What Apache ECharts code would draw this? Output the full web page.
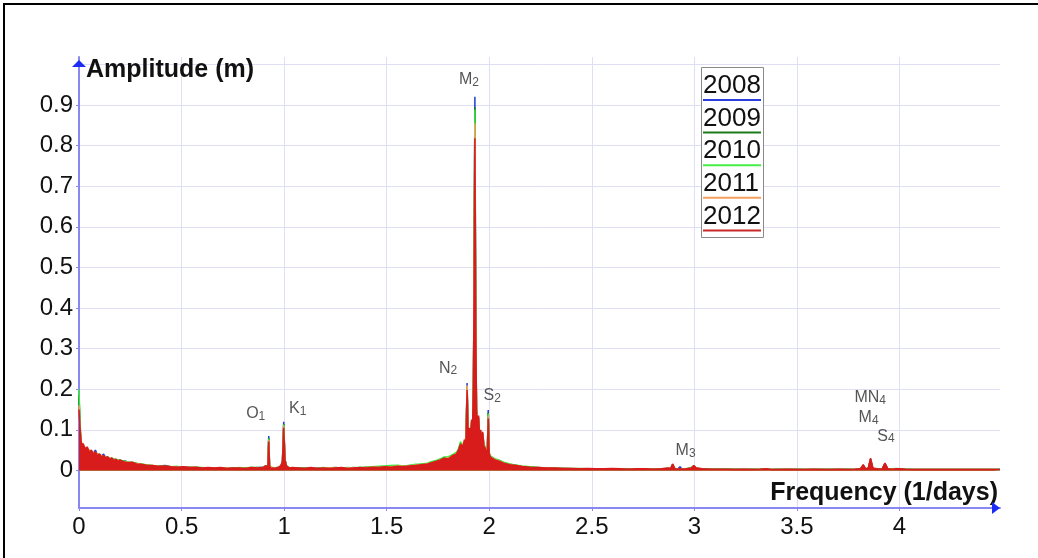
<!DOCTYPE html>
<html>
<head>
<meta charset="utf-8">
<script src="https://cdn.jsdelivr.net/npm/echarts@6/dist/echarts.min.js"></script>
<style>
  html, body { margin: 0; padding: 0; background: #fff; }
  #chart { width: 1038px; height: 558px; }
</style>
</head>
<body>
<div id="chart"></div>
<script>
// Tidal amplitude spectra of the water level record, one curve per year.
const years = ['2008', '2009', '2010', '2011', '2012'];

// Frequency (1/days)
const freq = [
  0, 0.005, 0.01, 0.015, 0.02, 0.03, 0.04, 0.05, 0.06, 0.07, 0.08, 0.09, 0.10, 0.11, 0.12, 0.13, 0.14, 0.15, 0.16, 0.17, 0.18, 0.19, 0.20, 0.22, 0.24, 0.26, 0.28, 0.30,
  0.33, 0.36, 0.39, 0.42, 0.45, 0.48, 0.51, 0.54, 0.57, 0.60, 0.63, 0.66, 0.69, 0.72, 0.75, 0.78, 0.81, 0.84, 0.87,
  0.90, 0.91, 0.916, 0.921, 0.925, 0.929, 0.935, 0.945, 0.955, 0.965, 0.975, 0.985, 0.992, 0.998, 1.004, 1.012, 1.025, 1.04,
  1.07, 1.10, 1.13, 1.16, 1.19, 1.22, 1.25, 1.28, 1.31, 1.34, 1.37, 1.40, 1.43, 1.46, 1.49, 1.52, 1.55, 1.58, 1.61, 1.64, 1.67, 1.70, 1.72, 1.74,
  1.76, 1.78, 1.80, 1.82, 1.84, 1.85, 1.86, 1.87, 1.88, 1.886, 1.892, 1.898, 1.904, 1.909, 1.914, 1.919, 1.923, 1.926, 1.930, 1.934, 1.938, 1.943, 1.948, 1.953, 1.958, 1.963, 1.968, 1.974, 1.980, 1.986, 1.991, 1.995, 2.000, 2.007, 2.015, 2.03, 2.05, 2.07, 2.10,
  2.13, 2.16, 2.20, 2.24, 2.28, 2.32, 2.36, 2.40, 2.44, 2.48, 2.52, 2.56, 2.60, 2.64, 2.68, 2.72, 2.76, 2.80, 2.84, 2.87,
  2.885, 2.894, 2.905, 2.92, 2.93, 2.94, 2.96, 2.985, 2.997, 3.01, 3.04, 3.08, 3.12, 3.16, 3.20, 3.24, 3.28, 3.32, 3.35, 3.38,
  3.42, 3.46, 3.50, 3.54, 3.58, 3.62, 3.66, 3.70, 3.74, 3.78, 3.81, 3.823, 3.835, 3.848, 3.859, 3.87, 3.89, 3.915, 3.929, 3.943,
  3.965, 3.985, 3.994, 4.005, 4.03, 4.07, 4.11, 4.15, 4.19, 4.23, 4.27, 4.31, 4.35, 4.39, 4.43, 4.46, 4.49
];

// Amplitude (m), same order as freq
const amp2008 = [
  0.178, 0.098, 0.065, 0.062, 0.058, 0.055, 0.050, 0.048, 0.044, 0.043, 0.050, 0.038, 0.037, 0.036, 0.040, 0.032, 0.030, 0.029, 0.028, 0.026, 0.025, 0.024, 0.023, 0.024, 0.020, 0.018, 0.017, 0.014,
  0.012, 0.011, 0.011, 0.012, 0.008, 0.008, 0.007, 0.007, 0.006, 0.006, 0.006, 0.005, 0.006, 0.005, 0.005, 0.006, 0.005, 0.006, 0.007,
  0.007, 0.010, 0.006, 0.013, 0.085, 0.011, 0.006, 0.005, 0.006, 0.006, 0.007, 0.011, 0.024, 0.120, 0.027, 0.011, 0.006, 0.006,
  0.005, 0.006, 0.005, 0.006, 0.005, 0.006, 0.005, 0.006, 0.006, 0.005, 0.006, 0.007, 0.006, 0.008, 0.007, 0.009, 0.008, 0.010, 0.010, 0.011, 0.013, 0.015, 0.017, 0.020,
  0.022, 0.027, 0.026, 0.032, 0.037, 0.045, 0.058, 0.052, 0.066, 0.055, 0.215, 0.062, 0.095, 0.078, 0.112, 0.100, 0.200, 0.470, 0.920, 0.400, 0.135, 0.100, 0.120, 0.078, 0.090, 0.064, 0.085, 0.055, 0.050, 0.041, 0.046, 0.149, 0.036, 0.030, 0.026, 0.023, 0.020, 0.016, 0.013,
  0.011, 0.009, 0.008, 0.006, 0.006, 0.005, 0.005, 0.004, 0.004, 0.004, 0.004, 0.003, 0.004, 0.004, 0.003, 0.003, 0.004, 0.003, 0.003, 0.005,
  0.004, 0.014, 0.004, 0.004, 0.009, 0.003, 0.004, 0.005, 0.011, 0.005, 0.003, 0.003, 0.002, 0.003, 0.002, 0.002, 0.002, 0.002, 0.003, 0.002,
  0.002, 0.002, 0.002, 0.002, 0.002, 0.002, 0.002, 0.002, 0.002, 0.002, 0.003, 0.012, 0.003, 0.005, 0.027, 0.005, 0.003, 0.003, 0.016, 0.003,
  0.003, 0.003, 0.006, 0.003, 0.002, 0.002, 0.002, 0.002, 0.002, 0.002, 0.002, 0.002, 0.002, 0.002, 0.002, 0.002, 0.002
];
const amp2009 = [
  0.185, 0.110, 0.070, 0.064, 0.060, 0.056, 0.052, 0.049, 0.046, 0.044, 0.042, 0.040, 0.038, 0.036, 0.034, 0.033, 0.031, 0.030, 0.029, 0.027, 0.026, 0.025, 0.024, 0.022, 0.020, 0.019, 0.017, 0.016,
  0.013, 0.011, 0.010, 0.010, 0.009, 0.008, 0.008, 0.007, 0.007, 0.006, 0.006, 0.006, 0.006, 0.005, 0.006, 0.005, 0.006, 0.006, 0.006,
  0.007, 0.011, 0.007, 0.012, 0.080, 0.010, 0.006, 0.006, 0.005, 0.006, 0.008, 0.012, 0.023, 0.114, 0.026, 0.010, 0.006, 0.006,
  0.006, 0.006, 0.006, 0.005, 0.006, 0.006, 0.007, 0.006, 0.006, 0.007, 0.006, 0.008, 0.008, 0.009, 0.009, 0.010, 0.011, 0.011, 0.012, 0.013, 0.015, 0.017, 0.020, 0.023,
  0.027, 0.031, 0.030, 0.038, 0.042, 0.052, 0.066, 0.060, 0.072, 0.058, 0.205, 0.068, 0.100, 0.082, 0.120, 0.105, 0.210, 0.450, 0.895, 0.380, 0.145, 0.108, 0.130, 0.088, 0.098, 0.072, 0.092, 0.062, 0.056, 0.047, 0.052, 0.142, 0.042, 0.034, 0.030, 0.027, 0.024, 0.019, 0.015,
  0.013, 0.010, 0.008, 0.007, 0.006, 0.005, 0.005, 0.005, 0.004, 0.004, 0.004, 0.004, 0.004, 0.003, 0.004, 0.003, 0.003, 0.004, 0.003, 0.005,
  0.005, 0.015, 0.004, 0.003, 0.004, 0.004, 0.003, 0.006, 0.011, 0.006, 0.003, 0.003, 0.003, 0.002, 0.003, 0.002, 0.003, 0.002, 0.003, 0.002,
  0.003, 0.002, 0.003, 0.002, 0.002, 0.003, 0.002, 0.002, 0.003, 0.002, 0.004, 0.013, 0.004, 0.005, 0.028, 0.005, 0.004, 0.003, 0.017, 0.003,
  0.003, 0.004, 0.007, 0.003, 0.003, 0.002, 0.002, 0.002, 0.002, 0.002, 0.002, 0.002, 0.002, 0.002, 0.002, 0.002, 0.002
];
const amp2010 = [
  0.200, 0.120, 0.068, 0.058, 0.061, 0.054, 0.055, 0.047, 0.048, 0.044, 0.043, 0.039, 0.040, 0.035, 0.036, 0.031, 0.033, 0.029, 0.030, 0.029, 0.027, 0.026, 0.025, 0.023, 0.021, 0.020, 0.018, 0.016,
  0.014, 0.012, 0.011, 0.010, 0.009, 0.010, 0.008, 0.007, 0.008, 0.007, 0.006, 0.006, 0.006, 0.006, 0.005, 0.007, 0.006, 0.008, 0.007,
  0.008, 0.010, 0.006, 0.011, 0.078, 0.011, 0.005, 0.007, 0.006, 0.007, 0.008, 0.011, 0.023, 0.113, 0.025, 0.011, 0.007, 0.006,
  0.005, 0.006, 0.006, 0.005, 0.007, 0.006, 0.005, 0.006, 0.007, 0.006, 0.008, 0.007, 0.009, 0.010, 0.011, 0.012, 0.013, 0.011, 0.012, 0.015, 0.016, 0.018, 0.022, 0.024,
  0.028, 0.033, 0.034, 0.038, 0.045, 0.052, 0.071, 0.060, 0.072, 0.061, 0.207, 0.072, 0.100, 0.088, 0.118, 0.108, 0.215, 0.490, 0.888, 0.370, 0.148, 0.112, 0.128, 0.090, 0.097, 0.074, 0.090, 0.064, 0.058, 0.048, 0.053, 0.140, 0.043, 0.035, 0.031, 0.028, 0.025, 0.020, 0.016,
  0.013, 0.011, 0.009, 0.007, 0.006, 0.006, 0.005, 0.004, 0.005, 0.004, 0.004, 0.004, 0.004, 0.004, 0.003, 0.003, 0.004, 0.003, 0.004, 0.005,
  0.004, 0.014, 0.004, 0.003, 0.004, 0.003, 0.004, 0.007, 0.011, 0.005, 0.003, 0.003, 0.003, 0.003, 0.002, 0.002, 0.002, 0.003, 0.003, 0.002,
  0.002, 0.002, 0.002, 0.002, 0.002, 0.002, 0.003, 0.002, 0.002, 0.002, 0.003, 0.012, 0.003, 0.005, 0.026, 0.005, 0.003, 0.003, 0.016, 0.003,
  0.004, 0.005, 0.008, 0.004, 0.003, 0.002, 0.002, 0.002, 0.002, 0.002, 0.002, 0.002, 0.002, 0.002, 0.002, 0.002, 0.002
];
const amp2011 = [
  0.160, 0.100, 0.076, 0.063, 0.060, 0.057, 0.053, 0.050, 0.047, 0.045, 0.044, 0.040, 0.039, 0.036, 0.035, 0.032, 0.032, 0.030, 0.029, 0.026, 0.026, 0.024, 0.023, 0.021, 0.020, 0.018, 0.017, 0.015,
  0.012, 0.012, 0.010, 0.009, 0.009, 0.008, 0.008, 0.007, 0.007, 0.006, 0.006, 0.006, 0.005, 0.006, 0.005, 0.005, 0.005, 0.006, 0.006,
  0.007, 0.011, 0.006, 0.012, 0.075, 0.010, 0.006, 0.006, 0.005, 0.006, 0.007, 0.012, 0.022, 0.110, 0.025, 0.010, 0.006, 0.006,
  0.005, 0.005, 0.006, 0.005, 0.005, 0.006, 0.006, 0.005, 0.006, 0.006, 0.006, 0.007, 0.007, 0.008, 0.008, 0.009, 0.010, 0.010, 0.011, 0.013, 0.014, 0.016, 0.018, 0.021,
  0.026, 0.029, 0.031, 0.035, 0.041, 0.049, 0.062, 0.061, 0.078, 0.059, 0.210, 0.071, 0.102, 0.084, 0.122, 0.106, 0.205, 0.430, 0.855, 0.370, 0.142, 0.106, 0.130, 0.086, 0.096, 0.071, 0.092, 0.061, 0.056, 0.046, 0.051, 0.135, 0.041, 0.033, 0.029, 0.026, 0.023, 0.018, 0.014,
  0.011, 0.010, 0.007, 0.006, 0.006, 0.005, 0.005, 0.004, 0.004, 0.004, 0.003, 0.004, 0.004, 0.003, 0.003, 0.003, 0.003, 0.003, 0.003, 0.005,
  0.004, 0.013, 0.003, 0.003, 0.004, 0.003, 0.003, 0.005, 0.010, 0.005, 0.003, 0.002, 0.002, 0.002, 0.002, 0.002, 0.002, 0.002, 0.003, 0.002,
  0.002, 0.002, 0.002, 0.002, 0.002, 0.002, 0.002, 0.002, 0.002, 0.002, 0.003, 0.012, 0.003, 0.005, 0.026, 0.005, 0.003, 0.002, 0.016, 0.003,
  0.003, 0.003, 0.006, 0.003, 0.002, 0.002, 0.002, 0.002, 0.002, 0.002, 0.002, 0.002, 0.002, 0.002, 0.002, 0.002, 0.002
];
const amp2012 = [
  0.150, 0.105, 0.072, 0.060, 0.066, 0.052, 0.058, 0.045, 0.050, 0.040, 0.046, 0.036, 0.041, 0.033, 0.037, 0.030, 0.034, 0.027, 0.031, 0.024, 0.028, 0.022, 0.026, 0.021, 0.019, 0.020, 0.016, 0.015,
  0.013, 0.012, 0.010, 0.011, 0.009, 0.008, 0.009, 0.007, 0.008, 0.006, 0.007, 0.006, 0.007, 0.005, 0.006, 0.006, 0.005, 0.007, 0.006,
  0.008, 0.012, 0.006, 0.012, 0.071, 0.010, 0.005, 0.006, 0.005, 0.007, 0.008, 0.012, 0.022, 0.105, 0.025, 0.010, 0.006, 0.007,
  0.006, 0.005, 0.007, 0.005, 0.006, 0.005, 0.006, 0.007, 0.005, 0.006, 0.007, 0.006, 0.008, 0.007, 0.009, 0.008, 0.010, 0.009, 0.011, 0.012, 0.014, 0.016, 0.019, 0.022,
  0.025, 0.030, 0.028, 0.036, 0.040, 0.050, 0.065, 0.058, 0.075, 0.060, 0.198, 0.070, 0.105, 0.085, 0.125, 0.110, 0.220, 0.420, 0.818, 0.360, 0.150, 0.110, 0.135, 0.085, 0.100, 0.070, 0.095, 0.060, 0.055, 0.045, 0.050, 0.128, 0.040, 0.032, 0.028, 0.025, 0.022, 0.018, 0.014,
  0.012, 0.010, 0.008, 0.007, 0.006, 0.006, 0.005, 0.005, 0.004, 0.005, 0.004, 0.004, 0.005, 0.004, 0.003, 0.004, 0.004, 0.003, 0.004, 0.006,
  0.005, 0.016, 0.004, 0.003, 0.005, 0.003, 0.004, 0.006, 0.012, 0.006, 0.004, 0.003, 0.003, 0.003, 0.002, 0.003, 0.002, 0.003, 0.004, 0.002,
  0.002, 0.003, 0.002, 0.002, 0.003, 0.002, 0.002, 0.003, 0.002, 0.003, 0.004, 0.014, 0.004, 0.006, 0.030, 0.006, 0.004, 0.003, 0.018, 0.004,
  0.003, 0.004, 0.007, 0.004, 0.003, 0.002, 0.002, 0.002, 0.002, 0.002, 0.002, 0.002, 0.002, 0.002, 0.002, 0.002, 0.002
];
const amplitudes = [amp2008, amp2009, amp2010, amp2011, amp2012];

// Axis ticks
const xTicks = [0, 0.5, 1, 1.5, 2, 2.5, 3, 3.5, 4];
const yTicks = [0, 0.1, 0.2, 0.3, 0.4, 0.5, 0.6, 0.7, 0.8, 0.9, 1.0];
const yTickLabels = [0, 0.1, 0.2, 0.3, 0.4, 0.5, 0.6, 0.7, 0.8, 0.9];

// Tidal constituents: name, subscript, peak frequency and amplitude
const constituentName = ['O', 'K', 'N', 'M', 'S', 'M', 'MN', 'M', 'S'];
const constituentSub  = ['1', '1', '2', '2', '2', '3', '4', '4', '4'];
const constituentFreq = [0.925, 0.998, 1.892, 1.930, 1.995, 2.894, 3.823, 3.859, 3.929];
const constituentAmp  = [0.085, 0.120, 0.215, 0.920, 0.149, 0.016, 0.014, 0.030, 0.018];

const lineColors   = ['#1f3fd8', '#1b7f1b', '#39e639', '#f5a05a', '#d81b1b'];
const legendColors = ['#2a3ee0', '#1d7a1d', '#44ee44', '#f5a060', '#cc2a2a'];
const labelOffsets = [[-13, -22], [14, -13], [-19, -15], [-6, -17], [4, -14], [13, -13], [7, -67], [-2, -41], [1, -27]];

const FONT = '"Liberation Sans", Arial, sans-serif';
const AXIS_LINE = '#8888f0';
const ARROW_BLUE = '#1c2cf5';
const X_MIN = 0, X_MAX = 4.49, Y_MIN = -0.0925, Y_MAX = 1.018;

const chart = echarts.init(document.getElementById('chart'), null, { renderer: 'canvas' });

const spectrumSeries = years.map((y, i) => ({
  name: y,
  type: 'line',
  data: freq.map((f, k) => [f, amplitudes[i][k]]),
  showSymbol: false,
  symbol: 'none',
  lineStyle: { color: lineColors[i], width: 1.5 },
  itemStyle: { color: lineColors[i] },
  areaStyle: { color: lineColors[i], opacity: 1 },
  z: 2 + i * 0.1,
  silent: true
}));

const constituentSeries = {
  name: 'constituents',
  type: 'scatter',
  symbolSize: 1,
  itemStyle: { color: 'rgba(0,0,0,0)' },
  silent: true,
  z: 10,
  data: constituentFreq.map((f, i) => ({
    value: [f, constituentAmp[i]],
    label: {
      show: true,
      position: 'inside',
      offset: labelOffsets[i],
      formatter: '{b|' + constituentName[i] + '}{s|' + constituentSub[i] + '}'
    }
  })),
  label: {
    rich: {
      b: { fontFamily: FONT, fontSize: 16, lineHeight: 18, color: '#2b2b2b' },
      s: { fontFamily: FONT, fontSize: 12, lineHeight: 9, color: '#2b2b2b', verticalAlign: 'bottom' }
    }
  }
};

const legendRich = { t: { fontFamily: FONT, fontSize: 26, lineHeight: 26, color: '#111' } };
legendColors.forEach((c, i) => {
  legendRich['u' + i] = { width: 58, height: 2, lineHeight: 2, fontSize: 1, backgroundColor: c };
});

chart.setOption({
  animation: false,
  backgroundColor: '#fff',
  grid: { left: 79, right: 38, top: 57, bottom: 50, containLabel: false, outerBoundsMode: 'none' },
  xAxis: {
    type: 'value',
    min: X_MIN,
    max: X_MAX,
    name: 'Frequency (1/days)',
    nameLocation: 'end',
    nameGap: -2,
    nameMoveOverlap: false,
    nameTextStyle: {
      fontFamily: FONT, fontSize: 25, fontWeight: 'bold', color: '#111',
      align: 'right', verticalAlign: 'bottom', lineHeight: 30
    },
    axisLine: { show: true, onZero: false, lineStyle: { color: AXIS_LINE, width: 2 } },
    axisTick: { show: true, customValues: xTicks, length: 3, lineStyle: { color: AXIS_LINE } },
    axisLabel: {
      customValues: xTicks, margin: 7,
      fontFamily: FONT, fontSize: 24, color: '#111'
    },
    splitLine: { show: true, lineStyle: { color: '#dedef4', width: 1 } }
  },
  yAxis: {
    type: 'value',
    min: Y_MIN,
    max: Y_MAX,
    name: 'Amplitude (m)',
    nameLocation: 'end',
    nameGap: -13,
    nameMoveOverlap: false,
    nameTextStyle: {
      fontFamily: FONT, fontSize: 25, fontWeight: 'bold', color: '#111',
      align: 'left', verticalAlign: 'middle', padding: [0, 0, 0, 7]
    },
    axisLine: { show: true, onZero: false, lineStyle: { color: AXIS_LINE, width: 2 } },
    axisTick: { show: true, customValues: yTicks, length: 3, lineStyle: { color: AXIS_LINE } },
    axisLabel: {
      customValues: yTickLabels, margin: 6,
      fontFamily: FONT, fontSize: 24, color: '#111'
    },
    splitLine: { show: true, lineStyle: { color: '#dedef4', width: 1 } }
  },
  legend: {
    orient: 'vertical',
    left: 698,
    top: 73,
    padding: 0,
    itemGap: 4.6,
    itemWidth: 0,
    itemHeight: 0,
    icon: 'none',
    selectedMode: false,
    z: 12,
    data: years,
    formatter: name => '{t|' + name + '}\n{u' + years.indexOf(name) + '|}',
    textStyle: { rich: legendRich }
  },
  graphic: [
    {
      type: 'rect', left: 701, top: 67, z: 11,
      shape: { width: 62, height: 170 },
      style: { fill: '#fff', stroke: '#8a8a8a', lineWidth: 1 }
    },
    {
      type: 'polyline', z: 20, silent: true,
      shape: { points: [[4, 600], [4, 4], [1100, 4]] },
      style: { stroke: '#000', lineWidth: 2, fill: null }
    }
  ],
  series: spectrumSeries.concat([constituentSeries])
});

// Arrow heads at the ends of both axes, placed from the axis extents
const origin = chart.convertToPixel({ gridIndex: 0 }, [X_MIN, Y_MIN]);
const xEnd = chart.convertToPixel({ gridIndex: 0 }, [X_MAX, Y_MIN]);
const yEnd = chart.convertToPixel({ gridIndex: 0 }, [X_MIN, Y_MAX]);
chart.setOption({
  graphic: [
    {
      type: 'polygon', id: 'xArrow', z: 15, silent: true,
      shape: { points: [[xEnd[0], xEnd[1]], [xEnd[0] - 8, xEnd[1] - 6], [xEnd[0] - 8, xEnd[1] + 6]] },
      style: { fill: ARROW_BLUE }
    },
    {
      type: 'polygon', id: 'yArrow', z: 15, silent: true,
      shape: { points: [[origin[0], yEnd[1] + 3], [origin[0] - 7, yEnd[1] + 10], [origin[0] + 7, yEnd[1] + 10]] },
      style: { fill: ARROW_BLUE }
    }
  ]
});
</script>
</body>
</html>
